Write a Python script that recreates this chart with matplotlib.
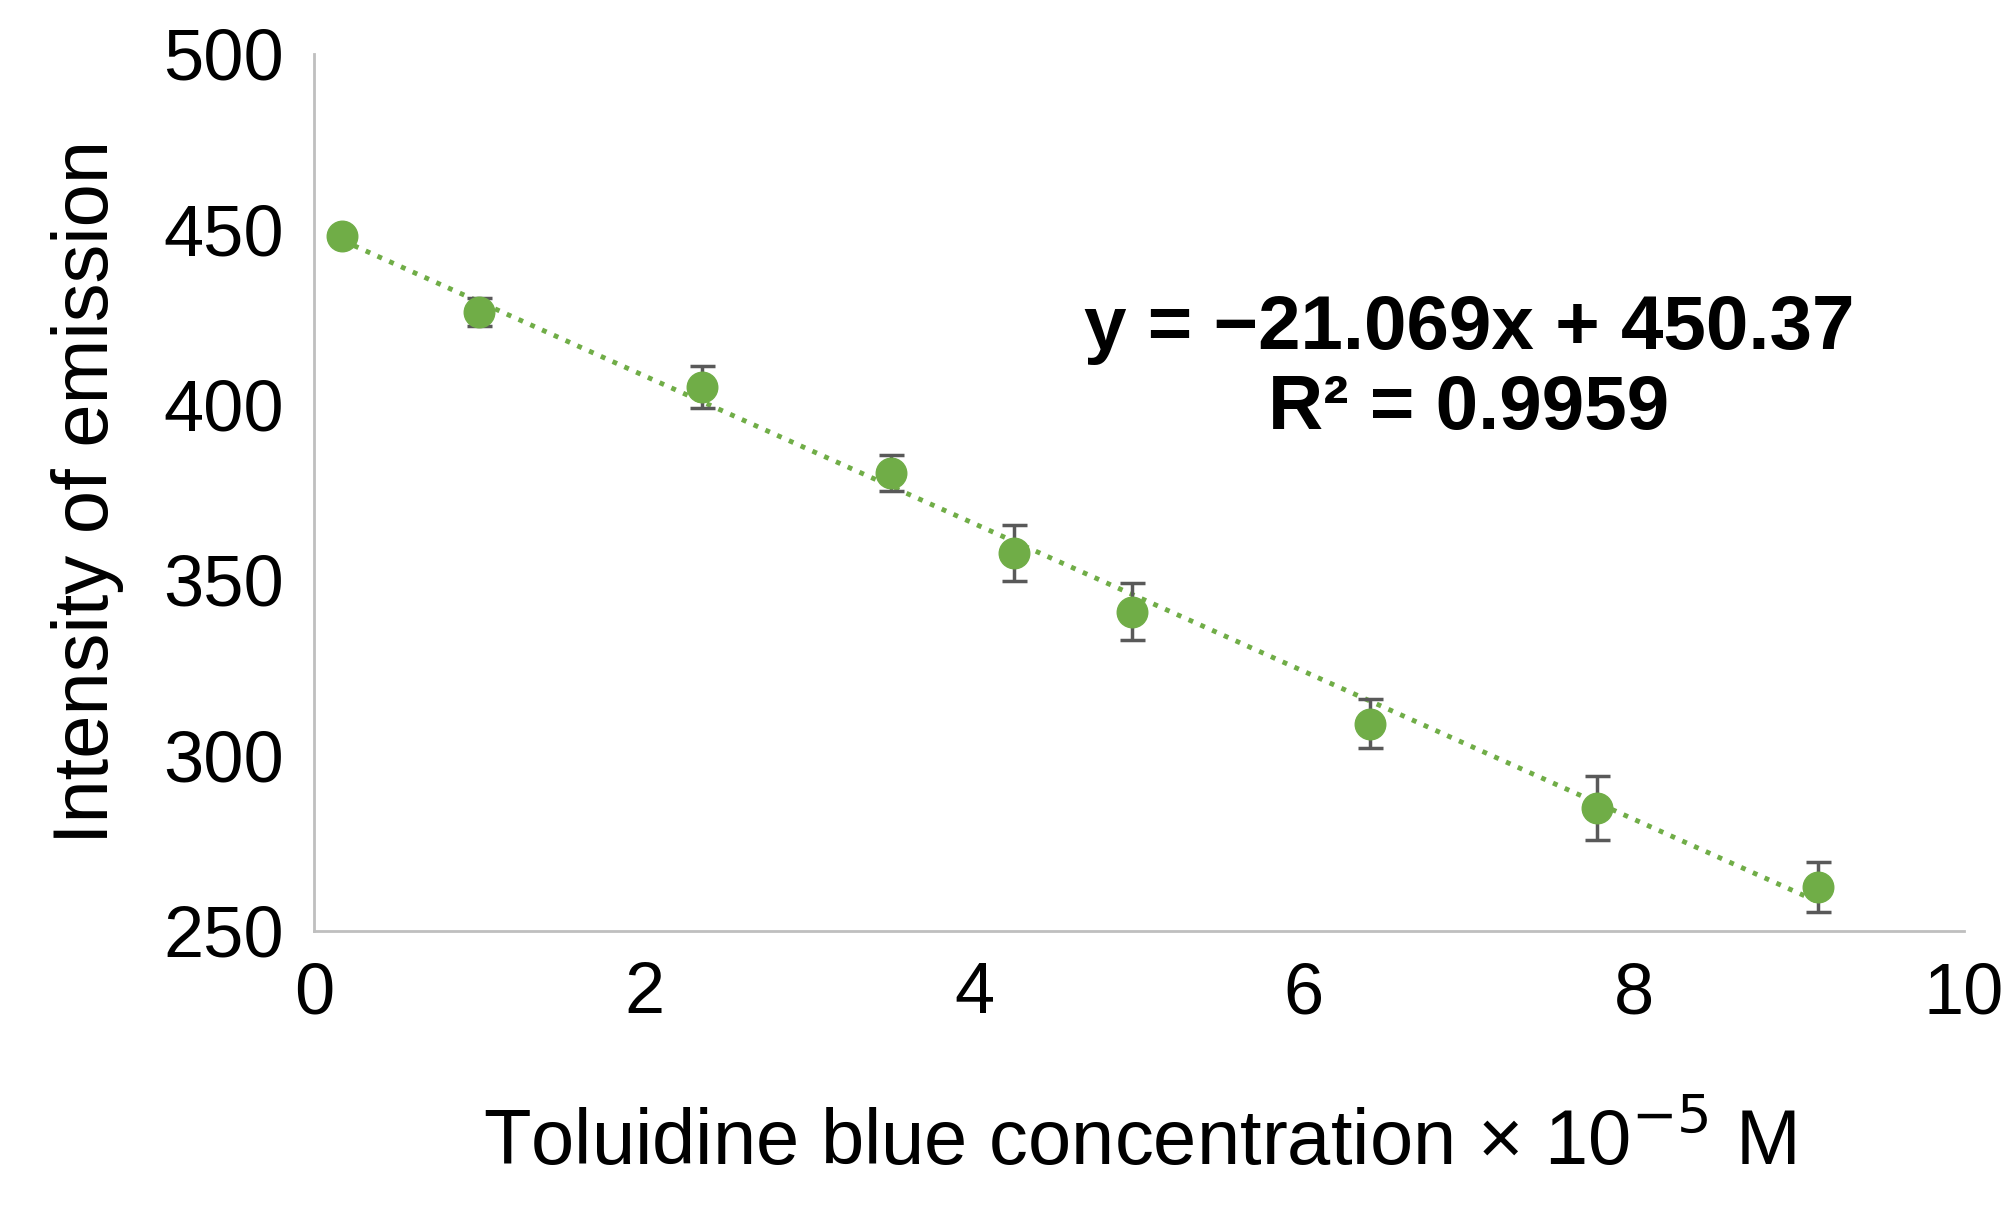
import numpy as np
import matplotlib.pyplot as plt

plt.rcParams['font.family'] = ['Liberation Sans', 'DejaVu Sans']

# data
conc = [0.17, 1.0, 2.35, 3.5, 4.24, 4.96, 6.4, 7.78, 9.12]
intensity = [448, 426.5, 405, 380.5, 357.6, 341, 309, 285, 262.5]
err = [2, 4, 6, 5, 8, 8, 7, 9, 7]
slope, intercept = -21.069, 450.37

fig = plt.figure(figsize=(20.14, 12.2), dpi=100)
ax = fig.add_axes([0.156, 0.237, 0.819, 0.719])

xfit = np.array([conc[0], conc[-1]])
ax.plot(xfit, slope * xfit + intercept, ':', color='#70AD47', lw=3.5)
ax.errorbar(conc, intensity, yerr=err, fmt='o', color='#70AD47', ms=22,
            ecolor='#595959', elinewidth=2.5, capsize=9, capthick=2.5, zorder=3)

ax.set_xlim(0, 10)
ax.set_ylim(250, 500)
ax.set_xticks([0, 2, 4, 6, 8, 10])
ax.set_yticks([250, 300, 350, 400, 450, 500])
ax.tick_params(length=0, labelsize=52, pad=22)
for s in ['top', 'right']:
    ax.spines[s].set_visible(False)
for s in ['left', 'bottom']:
    ax.spines[s].set_color('#BFBFBF')
    ax.spines[s].set_linewidth(2)

ax.set_xlabel('Toluidine blue concentration \u00d7 10$^{\u22125}$ M', fontsize=56, labelpad=55)
ax.set_ylabel('Intensity of emission', fontsize=56, labelpad=28)

ax.text(0.70, 0.64, 'y = \u221221.069x + 450.37\nR\u00b2 = 0.9959', transform=ax.transAxes,
        ha='center', va='center', fontsize=55, fontweight='bold', linespacing=1.15)

fig.savefig('out.png', dpi=100)
